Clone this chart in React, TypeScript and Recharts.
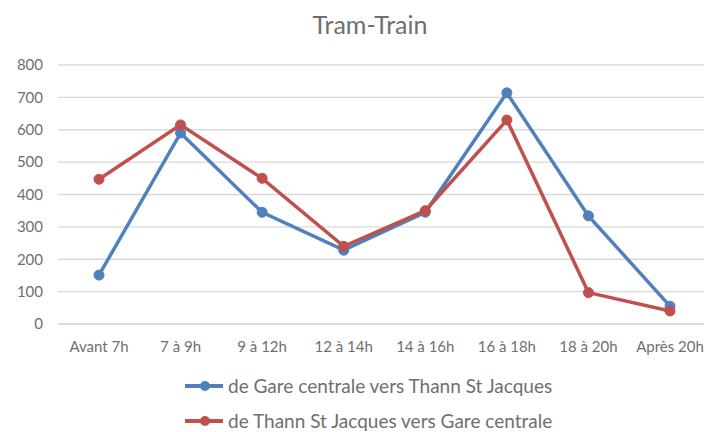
import { CartesianGrid, Line, LineChart, XAxis, YAxis } from "recharts";

const periods = ["Avant 7h", "7 à 9h", "9 à 12h", "12 à 14h", "14 à 16h", "16 à 18h", "18 à 20h", "Après 20h"];
const gareVersThann = [151, 590, 345, 228, 345, 714, 334, 55];
const thannVersGare = [447, 615, 450, 240, 350, 630, 97, 40];
const yTicks = [0, 100, 200, 300, 400, 500, 600, 700, 800];

const seriesNames = ["de Gare centrale vers Thann St Jacques", "de Thann St Jacques vers Gare centrale"];
const BLUE = "#4f81bd";
const RED = "#c0504d";
const seriesColors = [BLUE, RED];
const TEXT = "#6f6f6f";
const FONT = "Lato, 'Open Sans', sans-serif";

const data = periods.map((p, i) => ({
  period: p,
  gare: gareVersThann[i],
  thann: thannVersGare[i]
}));

function LegendRows() {
  return (
    <div
      style={{
        position: "absolute",
        left: 185,
        top: 368,
        fontFamily: FONT,
        color: TEXT,
        fontSize: 19,
        lineHeight: "19px"
      }}
    >
      {seriesNames.map((name, i) => (
        <div key={name} style={{ display: "flex", alignItems: "center", height: 35 }}>
          <svg width={40} height={12} style={{ marginRight: 3 }}>
            <line x1={0} y1={6} x2={38} y2={6} stroke={seriesColors[i]} strokeWidth={4} />
            <circle cx={20} cy={6} r={5} fill={seriesColors[i]} />
          </svg>
          <span>{name}</span>
        </div>
      ))}
    </div>
  );
}

export default function App() {
  return (
    <div
      style={{
        position: "fixed",
        left: 0,
        top: 0,
        width: 704,
        height: 432,
        overflow: "hidden",
        background: "#fff"
      }}
    >
      <div
        style={{
          position: "absolute",
          left: 0,
          top: 9,
          width: 740,
          textAlign: "center",
          fontFamily: FONT,
          fontSize: 25,
          color: TEXT
        }}
      >
        Tram-Train
      </div>
      <LineChart width={720} height={432} data={data} margin={{ top: 65, right: 9, bottom: 71, left: 0 }}>
        <CartesianGrid stroke="#d9d9d9" strokeWidth={1.3} vertical={false} />
        <XAxis
          dataKey="period"
          stroke="#d9d9d9"
          strokeWidth={1.3}
          tickLine={false}
          tickMargin={11}
          height={37}
          padding={{ left: 41, right: 41 }}
          tick={{ fill: TEXT, fontSize: 15, fontFamily: FONT }}
          interval={0}
        />
        <YAxis
          domain={[0, 800]}
          ticks={yTicks}
          width={58}
          axisLine={false}
          tickLine={false}
          tickSize={0}
          tickMargin={15}
          tick={{ fill: TEXT, fontSize: 15, fontFamily: FONT }}
        />
        <Line
          name={seriesNames[0]}
          dataKey="gare"
          stroke={BLUE}
          strokeWidth={3.5}
          dot={{ r: 5, fill: BLUE, stroke: BLUE, strokeWidth: 1 }}
          isAnimationActive={false}
        />
        <Line
          name={seriesNames[1]}
          dataKey="thann"
          stroke={RED}
          strokeWidth={3.5}
          dot={{ r: 5, fill: RED, stroke: RED, strokeWidth: 1 }}
          isAnimationActive={false}
        />
      </LineChart>
      <LegendRows />
    </div>
  );
}
